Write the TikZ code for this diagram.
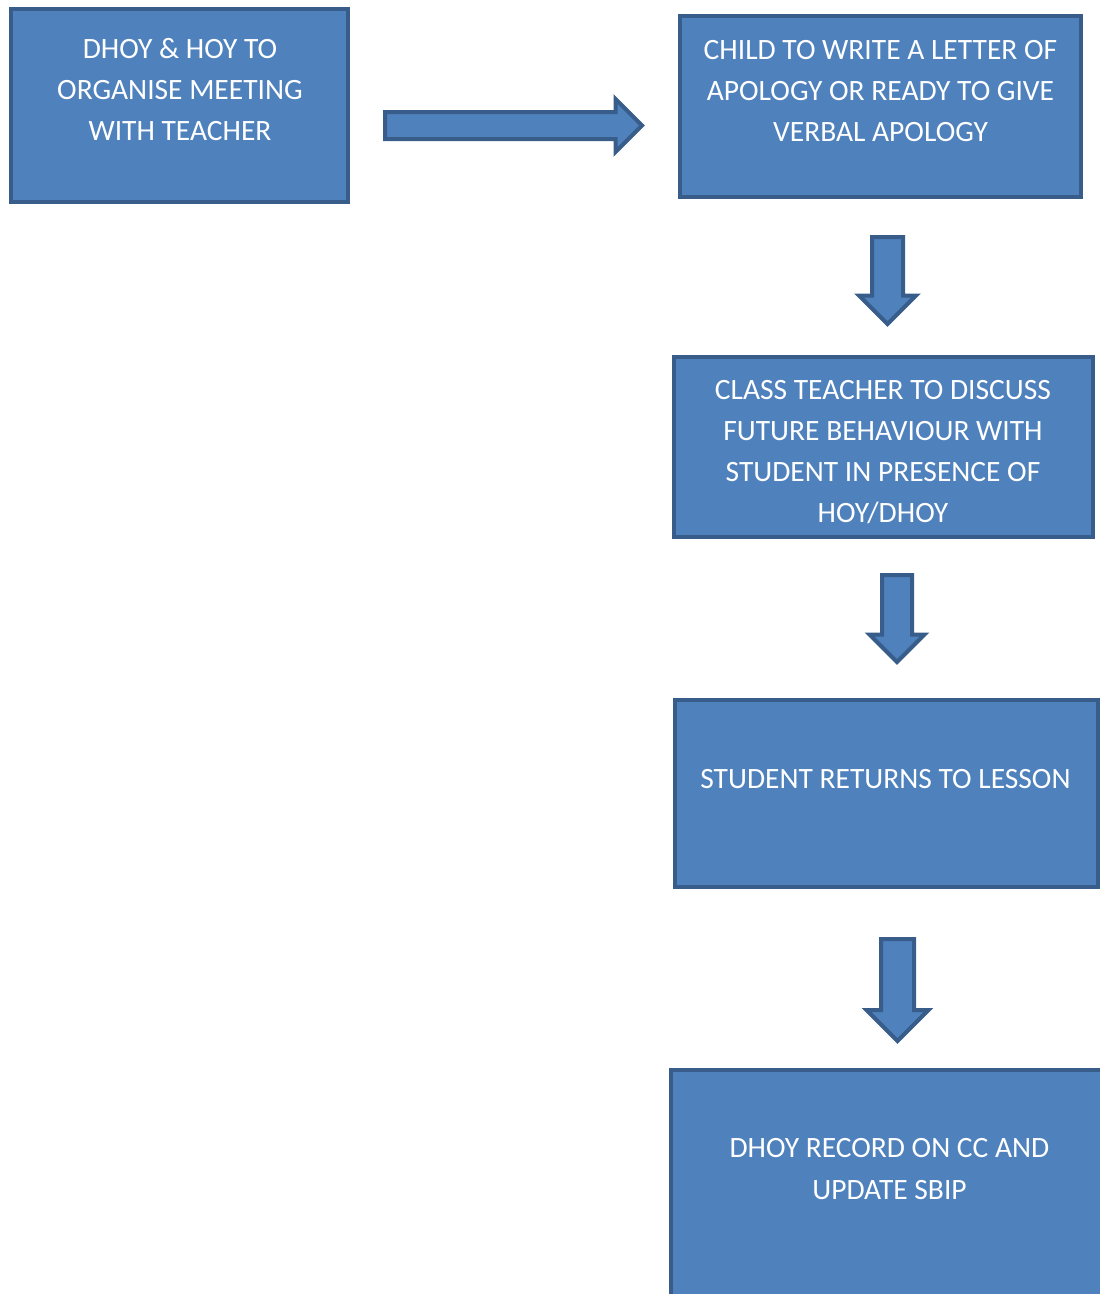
\documentclass[tikz,border=0pt]{standalone}
\usepackage{fontspec}
\setmainfont{Carlito}
\usetikzlibrary{shapes.arrows}
\definecolor{boxfill}{RGB}{79,129,189}
\definecolor{boxline}{RGB}{56,93,138}

\begin{document}
\begin{tikzpicture}[x=1pt,y=-1pt,
    box/.style={rectangle, draw=boxline, fill=boxfill, line width=4pt, inner sep=0pt},
    words/.style={text=white, align=center, inner sep=0pt, font=\fontsize{29.5}{41.3}\selectfont},
    blockarrow/.style={single arrow, draw=boxline, fill=boxfill, line width=4pt, single arrow tip angle=90, single arrow head indent=0pt, outer sep=0pt, anchor=tail}]
        \useasboundingbox (0,0) rectangle (1100,1294);

        \node[box, minimum width=337pt, minimum height=193pt] (meeting) at (179.5,105.5) {};
        \node[box, minimum width=401pt, minimum height=181pt] (apology) at (880.5,106.5) {};
        \node[box, minimum width=419pt, minimum height=180pt] (discuss) at (883.5,447) {};
        \node[box, minimum width=423pt, minimum height=187pt] (returns) at (886.5,793.5) {};
        \node[box, minimum width=438pt, minimum height=258pt] (record) at (890,1199) {};

        \node[words] (meetingtext) at (180,89.5) {DHOY \& HOY TO\\ORGANISE MEETING\\WITH TEACHER};
        \node[words] (apologytext) at (880.5,91) {CHILD TO WRITE A LETTER OF\\APOLOGY OR READY TO GIVE\\VERBAL APOLOGY};
        \node[words] (discusstext) at (883,452) {CLASS TEACHER TO DISCUSS\\FUTURE BEHAVIOUR WITH\\STUDENT IN PRESENCE OF\\HOY/DHOY};
        \node[words] (returnstext) at (885.5,779) {STUDENT RETURNS TO LESSON};
        \node[words] (recordtext) at (889.5,1169) {DHOY RECORD ON CC AND\\UPDATE SBIP};

        \node[blockarrow, inner sep=11.5pt, single arrow head extend=13pt, minimum height=257pt] (toapology) at (385,125.5) {};
        \node[blockarrow, shape border rotate=270, inner sep=13.5pt, single arrow head extend=13pt, minimum height=87pt] (todiscuss) at (887.5,237) {};
        \node[blockarrow, shape border rotate=270, inner sep=13pt, single arrow head extend=12.5pt, minimum height=87pt] (toreturns) at (897,575) {};
        \node[blockarrow, shape border rotate=270, inner sep=14.5pt, single arrow head extend=14.5pt, minimum height=102pt] (torecord) at (897.5,939) {};

    \end{tikzpicture}
\end{document}
